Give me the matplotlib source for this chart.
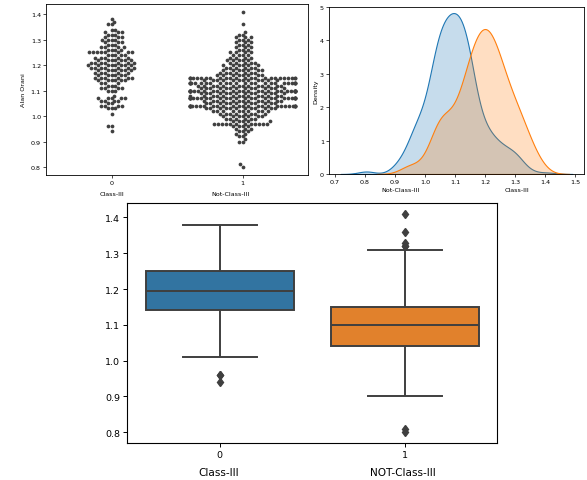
import numpy as np
import pandas as pd
import matplotlib
matplotlib.use('Agg')
import matplotlib.pyplot as plt
import seaborn as sns

# Alan Orani values: value and number of dots in the row
class3_vals = [0.94, 0.96, 1.01, 1.03, 1.04, 1.05, 1.06, 1.07, 1.08, 1.10, 1.11,
               1.12, 1.13, 1.14, 1.15, 1.16, 1.17, 1.18, 1.19, 1.20, 1.21, 1.22,
               1.23, 1.24, 1.25, 1.26, 1.27, 1.28, 1.29, 1.30, 1.31, 1.32, 1.33,
               1.34, 1.36, 1.37, 1.38]
class3_counts = [1, 2, 1, 3, 4, 2, 4, 5, 1, 3, 4,
                 3, 3, 6, 6, 6, 5, 7, 7, 8, 7, 7,
                 5, 5, 8, 4, 4, 3, 3, 4, 3, 3, 3,
                 2, 2, 1, 1]

notclass3_vals = [0.80, 0.81, 0.90, 0.91, 0.92, 0.93, 0.94, 0.95, 0.96, 0.97,
                  0.98, 0.99, 1.00, 1.01, 1.02, 1.03, 1.04, 1.05, 1.06, 1.07,
                  1.08, 1.09, 1.10, 1.11, 1.12, 1.13, 1.14, 1.15, 1.16, 1.17,
                  1.18, 1.19, 1.20, 1.21, 1.22, 1.23, 1.24, 1.25, 1.26, 1.27,
                  1.28, 1.29, 1.30, 1.31, 1.32, 1.33, 1.36, 1.41]
notclass3_counts = [1, 1, 2, 1, 2, 2, 3, 3, 4, 12,
                    5, 6, 7, 8, 10, 12, 28, 12, 13, 28,
                    14, 14, 31, 14, 14, 26, 12, 24, 8, 7,
                    7, 6, 6, 5, 5, 4, 4, 4, 3, 3,
                    3, 3, 3, 3, 2, 1, 1, 1]

class_ticks = ['0', '1']
class_names = ['Class-III', 'Not-Class-III']
box_names = ['Class-III', 'NOT-Class-III']
box_colors = ['#1f77b4', '#ff7f0e']

class3 = np.repeat(class3_vals, class3_counts)
notclass3 = np.repeat(notclass3_vals, notclass3_counts)

df = pd.DataFrame({
    'Class': [class_ticks[0]] * len(class3) + [class_ticks[1]] * len(notclass3),
    'Alan Orani': np.concatenate([class3, notclass3]),
})

W, H = 587, 481
fig = plt.figure(figsize=(W / 100, H / 100), dpi=100)

def px_axes(left, top, right, bottom):
    return fig.add_axes([left / W, 1 - bottom / H, (right - left) / W, (bottom - top) / H])

small = 4.6

# swarm plot
ax1 = px_axes(46, 5, 308, 175.7)
sns.swarmplot(data=df, x='Class', y='Alan Orani', order=class_ticks,
              color='.25', size=2.7, ax=ax1)
ax1.set_xlabel('')
ax1.set_ylabel('Alan Orani', fontsize=small, labelpad=3)
ax1.tick_params(labelsize=small, length=2.2, width=0.5, pad=1.5)
for s in ax1.spines.values():
    s.set_linewidth(0.6)
fig.text(112 / W, 1 - 195 / H, class_names[0], fontsize=small, ha='center', va='center')
fig.text(230 / W, 1 - 195 / H, class_names[1], fontsize=small, ha='center', va='center')

# kde plot
ax2 = px_axes(329, 8, 584, 175)
sns.kdeplot(notclass3, fill=True, ax=ax2, color='#1f77b4', linewidth=0.8)
sns.kdeplot(class3, fill=True, ax=ax2, color='#ff7f0e', linewidth=0.8)
ax2.set_ylim(0, 5)
ax2.set_ylabel('Density', fontsize=small, labelpad=1)
ax2.set_xticks(np.arange(0.7, 1.51, 0.1))
ax2.tick_params(labelsize=small, length=2.2, width=0.5, pad=1.5)
for s in ax2.spines.values():
    s.set_linewidth(0.6)
fig.text(400 / W, 1 - 190 / H, 'Not-Class-III', fontsize=small, ha='center', va='center')
fig.text(517 / W, 1 - 190 / H, 'Class-III', fontsize=small, ha='center', va='center')

# box plot
ax3 = px_axes(127, 204, 497, 444)
sns.boxplot(data=df, x='Class', y='Alan Orani', order=class_ticks, hue='Class',
            hue_order=class_ticks, palette=box_colors, saturation=0.75, legend=False,
            linecolor='#3f3f3f', linewidth=1.4,
            flierprops=dict(marker='d', markerfacecolor='#3f3f3f',
                            markeredgecolor='#3f3f3f', markersize=4.5),
            ax=ax3)
ax3.set_xlabel('')
ax3.set_ylabel('')
ax3.tick_params(labelsize=6.8, length=3, width=0.7, pad=2)
for s in ax3.spines.values():
    s.set_linewidth(0.8)
fig.text(219 / W, 1 - 473 / H, box_names[0], fontsize=7.6, ha='center', va='center')
fig.text(403 / W, 1 - 473 / H, box_names[1], fontsize=7.6, ha='center', va='center')

fig.savefig('out.png', dpi=100)
